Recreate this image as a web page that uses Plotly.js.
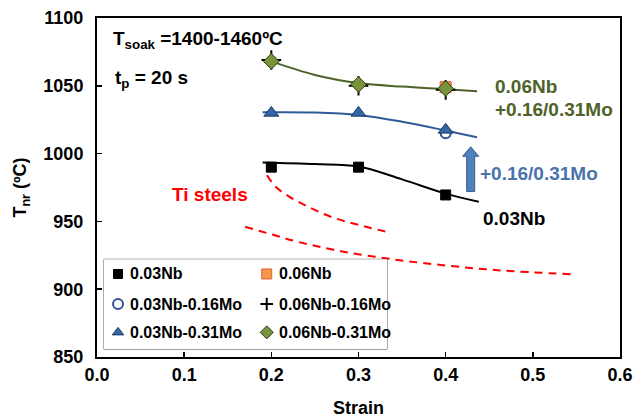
<!DOCTYPE html>
<html>
<head>
<meta charset="utf-8">
<script src="https://cdn.plot.ly/plotly-3.0.1.min.js"></script>
<style>
  html, body { margin: 0; padding: 0; background: #fff; }
  #chart { width: 633px; height: 418px; }
</style>
</head>
<body>
<div id="chart"></div>
<script>
// Measured no-recrystallisation temperatures vs. pass strain
const strain = [0.2, 0.3, 0.4];
const tnr003Nb = [990, 990, 969.5];
const strain006Nb = [0.4];
const tnr006Nb = [1049];
const strain003Nb016Mo = [0.4];
const tnr003Nb016Mo = [1015];
const tnr006Nb016Mo = [1069, 1050, 1047];
const tnr003Nb031Mo = [1030, 1030, 1017.5];
const tnr006Nb031Mo = [1068, 1051, 1048];

// Trend curves through each steel family
const fitStrainBlack = [0.19, 0.25, 0.3, 0.35, 0.4, 0.438];
const fitBlack = [993.5, 992.3, 990.5, 981, 970.5, 964.5];
const fitStrainBlue = [0.19, 0.25, 0.3, 0.35, 0.4, 0.436];
const fitBlue = [1030.5, 1030.3, 1028.5, 1023.5, 1017, 1012];
const fitStrainGreen = [0.2, 0.25, 0.3, 0.35, 0.4, 0.436];
const fitGreen = [1068, 1058, 1052, 1049.4, 1047.5, 1046];

// Ti steels reference band (dashed)
const tiUpperStrain = [0.195, 0.205, 0.22, 0.24, 0.27, 0.30, 0.333];
const tiUpper = [984, 975.5, 968.5, 961.5, 953, 947.5, 942.2];
const tiLowerStrain = [0.17, 0.2, 0.23, 0.28, 0.34, 0.4, 0.46, 0.545];
const tiLower = [946, 940.5, 935, 928, 922, 917.5, 914, 911];

// Key entries, in reading order (two columns, three rows)
const keyNames = ['0.03Nb', '0.06Nb', '0.03Nb-0.16Mo', '0.06Nb-0.16Mo', '0.03Nb-0.31Mo', '0.06Nb-0.31Mo'];

const FONT = 'Liberation Sans, Arial, sans-serif';

const styles = [
  { symbol: 'square', size: 10, color: '#000000', line: { color: '#000000', width: 1 } },
  { symbol: 'square', size: 11, color: '#F79646', line: { color: '#E0603A', width: 1 } },
  { symbol: 'circle-open', size: 10, color: '#2F5597', line: { color: '#2F5597', width: 2 } },
  { symbol: 'cross-thin', size: 14, color: '#000000', line: { color: '#000000', width: 2 } },
  { symbol: 'triangle-up', size: 13, color: '#3465A4', line: { color: '#1F3864', width: 1 } },
  { symbol: 'diamond', size: 12, color: '#77933C', line: { color: '#2A3A12', width: 1 } }
];
const keySizes = [9, 10, 10, 9, 10, 10];

function curve(x, y, color, dash) {
  return {
    x: x, y: y, type: 'scatter', mode: 'lines',
    line: { color: color, width: 2, shape: 'spline', smoothing: 1, dash: dash || 'solid' },
    hoverinfo: 'skip', showlegend: false
  };
}
function points(x, y, i) {
  return {
    x: x, y: y, type: 'scatter', mode: 'markers', name: keyNames[i],
    marker: styles[i], showlegend: false
  };
}

const traces = [
  curve(tiUpperStrain, tiUpper, '#FF0000', '8px,6px'),
  curve(tiLowerStrain, tiLower, '#FF0000', '8px,6px'),
  curve(fitStrainBlack, fitBlack, '#000000'),
  curve(fitStrainBlue, fitBlue, '#2F5C99'),
  curve(fitStrainGreen, fitGreen, '#4F6228'),
  points(strain, tnr003Nb, 0),
  points(strain006Nb, tnr006Nb, 1),
  points(strain003Nb016Mo, tnr003Nb016Mo, 2),
  points(strain, tnr006Nb016Mo, 3),
  points(strain, tnr003Nb031Mo, 4),
  points(strain, tnr006Nb031Mo, 5)
];

// Key box drawn on its own small axes pair
const keyCols = [0.0495, 0.575];
const keyRows = [0.837, 0.503, 0.188];
const keyTextOffset = 0.036;
const annotations = [];
keyNames.forEach(function (name, i) {
  const cx = keyCols[i % 2], cy = keyRows[Math.floor(i / 2)];
  traces.push({
    x: [cx], y: [cy], xaxis: 'x2', yaxis: 'y2', type: 'scatter', mode: 'markers',
    marker: Object.assign({}, styles[i], { size: keySizes[i] }),
    hoverinfo: 'skip', showlegend: false
  });
  annotations.push({
    xref: 'x2', yref: 'y2', x: cx + keyTextOffset, y: cy, xanchor: 'left', yanchor: 'middle',
    text: name, showarrow: false, font: { family: FONT, size: 16, color: '#000', weight: 'bold' }
  });
});

function label(x, y, text, color, size) {
  return {
    xref: 'x', yref: 'y', x: x, y: y, xanchor: 'left', yanchor: 'middle', text: text,
    showarrow: false, font: { family: FONT, size: size || 19, color: color, weight: 'bold' }
  };
}
annotations.push(
  label(0.0157, 1083.5, 'T<sub>soak</sub> =1400-1460ºC', '#000000', 19),
  label(0.0184, 1055, 't<sub>p</sub> = 20 s', '#000000', 19),
  label(0.4548, 1049.3, '0.06Nb', '#4F6228'),
  label(0.4548, 1032.7, '+0.16/0.31Mo', '#4F6228'),
  label(0.4371, 985.5, '+0.16/0.31Mo', '#4A72AD'),
  label(0.4402, 952.3, '0.03Nb', '#000000'),
  label(0.0839, 969.5, 'Ti steels', '#FF0000')
);

// Block arrow marking the Mo effect
const ax = 0.4287, shaftHalf = 0.0046, headHalf = 0.0092;
const arrowBase = 972, arrowNeck = 998, arrowTip = 1005;
const arrowPath = 'M' + (ax - shaftHalf) + ',' + arrowBase +
  ' L' + (ax - shaftHalf) + ',' + arrowNeck +
  ' L' + (ax - headHalf) + ',' + arrowNeck +
  ' L' + ax + ',' + arrowTip +
  ' L' + (ax + headHalf) + ',' + arrowNeck +
  ' L' + (ax + shaftHalf) + ',' + arrowNeck +
  ' L' + (ax + shaftHalf) + ',' + arrowBase + ' Z';

const keyDomainX = [0.0134, 0.5545];
const keyDomainY = [0.0227, 0.2882];

const layout = {
  width: 633, height: 418,
  margin: { l: 97, r: 13, t: 18, b: 61 },
  paper_bgcolor: '#ffffff', plot_bgcolor: '#ffffff',
  font: { family: FONT, color: '#000' },
  showlegend: false,
  xaxis: {
    range: [0, 0.6], dtick: 0.1, tick0: 0, tickformat: '.1f',
    ticks: 'inside', ticklen: 5, tickwidth: 1.5, tickcolor: '#000',
    showline: true, linecolor: '#000', linewidth: 2, mirror: true,
    showgrid: false, zeroline: false, ticklabelstandoff: 0,
    tickfont: { family: FONT, size: 18, color: '#000', weight: 'bold' },
    title: { text: 'Strain', standoff: 28, font: { family: FONT, size: 18, color: '#000', weight: 'bold' } }
  },
  yaxis: {
    range: [850, 1100], dtick: 50, tick0: 850,
    ticks: 'inside', ticklen: 5, tickwidth: 1.5, tickcolor: '#000',
    showline: true, linecolor: '#000', linewidth: 2, mirror: true,
    showgrid: false, zeroline: false, ticklabelstandoff: 8,
    tickfont: { family: FONT, size: 18, color: '#000', weight: 'bold' },
    title: { text: 'T<sub>nr</sub> (ºC)', standoff: 12, font: { family: FONT, size: 18, color: '#000', weight: 'bold' } }
  },
  xaxis2: { domain: keyDomainX, range: [0, 1], visible: false, fixedrange: true, anchor: 'y2' },
  yaxis2: { domain: keyDomainY, range: [0, 1], visible: false, fixedrange: true, anchor: 'x2' },
  shapes: [
    {
      type: 'rect', xref: 'paper', yref: 'paper', layer: 'below',
      x0: keyDomainX[0], x1: keyDomainX[1], y0: keyDomainY[0], y1: keyDomainY[1],
      line: { color: '#595959', width: 1 }, fillcolor: '#ffffff'
    },
    {
      type: 'path', xref: 'x', yref: 'y', path: arrowPath,
      fillcolor: '#4F81BD', line: { color: '#385D8A', width: 1 }
    }
  ],
  annotations: annotations
};

Plotly.newPlot('chart', traces, layout, { displayModeBar: false, staticPlot: true });
</script>
</body>
</html>
